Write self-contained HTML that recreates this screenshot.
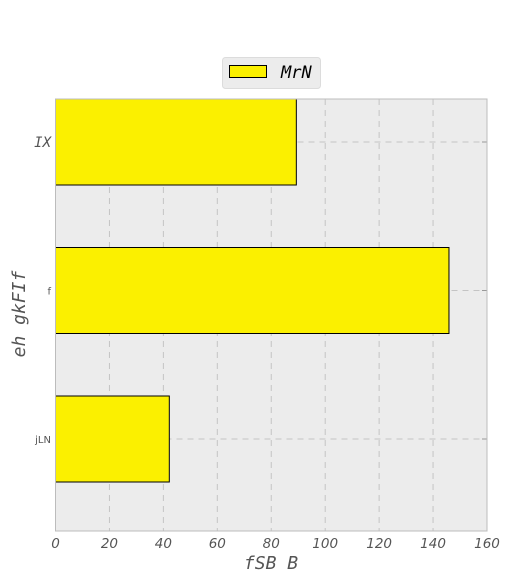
<!DOCTYPE html>
<html><head><meta charset="utf-8"><style>
html,body{margin:0;padding:0;background:#fff;width:511px;height:584px;overflow:hidden}
svg text{fill:#555}
</style></head><body>
<svg id="chart" width="511" height="584">
<g id="g"></g>
</svg>
<script>
const categories = ["jLN", "f", "IX"];
const values = [42.2, 145.9, 89.3];
const xTicks = [0, 20, 40, 60, 80, 100, 120, 140, 160];
const seriesName = "MrN";

const L = 55.5, R = 487, T = 99, B = 531;
const xScale = v => L + (v - 0) / 160 * (R - L);
const yScale = i => 439 - i * 148.5;
const barH = 86;
const NS = "http://www.w3.org/2000/svg";
const g = document.getElementById('g');
function el(tag, attrs, parent) {
  const e = document.createElementNS(NS, tag);
  for (const k in attrs) e.setAttribute(k, attrs[k]);
  (parent || g).appendChild(e);
  return e;
}
const bg = el('rect', {x: L, y: T, width: R - L, height: B - T, fill: '#ececec'});


xTicks.forEach(t => {
  const x = xScale(t);
  if (t > 0 && t < 160) {
    const ln = el('line', {x1: x, x2: x, y1: T, y2: B, stroke: '#c4c4c4', 'stroke-dasharray': '6,5', 'stroke-width': 1});
    
    
  }
  const tx = el('text', {x: x, y: B + 17, 'text-anchor': 'middle', 'font-family': 'DejaVu Sans, sans-serif', 'font-style': 'italic', 'font-size': 13.5});
  tx.textContent = t;
  
  
});
categories.forEach((c, i) => {
  const y = yScale(i);
  const ln = el('line', {x1: L, x2: R, y1: y, y2: y, stroke: '#c4c4c4', 'stroke-dasharray': '6,5', 'stroke-width': 1});
  
  
  const tk = el('line', {x1: R - 5, x2: R, y1: y, y2: y, stroke: '#999'});
  
  
});
categories.forEach((c, i) => {
  const y = yScale(i);
  const r = el('rect', {x: L, y: y - barH / 2, width: xScale(values[i]) - L, height: barH, fill: '#fbf000', stroke: '#000', 'stroke-width': 1});
  
  
  const big = c === 'IX';
  const tx = el('text', {x: 51, y: y + (big ? 5 : 4), 'text-anchor': 'end', 'font-family': big ? 'DejaVu Sans Mono, monospace' : 'DejaVu Sans, sans-serif', 'font-style': big ? 'italic' : 'normal', 'font-size': big ? 14 : 10});
  tx.textContent = c;
  
  
});
const fr = el('rect', {x: L, y: T, width: R - L, height: B - T, fill: 'none', stroke: '#bcbcbc', 'stroke-width': 1});


const xt = el('text', {x: 271, y: 569, 'text-anchor': 'middle', 'font-family': 'DejaVu Sans Mono, monospace', 'font-style': 'italic', 'font-size': 18});
xt.textContent = 'fSB B';


const yt = el('text', {x: 0, y: 0, 'text-anchor': 'middle', 'font-family': 'DejaVu Sans Mono, monospace', 'font-style': 'italic', 'font-size': 18, transform: 'translate(25,314) rotate(-90)'});
yt.textContent = 'eh gkFIf';


const lg = el('g', {});


const lb = el('rect', {x: 222.5, y: 57.5, width: 98, height: 31, rx: 3, fill: '#ececec', stroke: '#dcdcdc'}, lg);


const ls = el('rect', {x: 229.5, y: 65.5, width: 37, height: 12, fill: '#fbf000', stroke: '#000'}, lg);


const lt = el('text', {x: 281, y: 78, 'font-family': 'DejaVu Sans Mono, monospace', 'font-style': 'italic', 'font-size': 17, style: 'fill:#000'}, lg);
lt.textContent = seriesName;


</script>
</body></html>
